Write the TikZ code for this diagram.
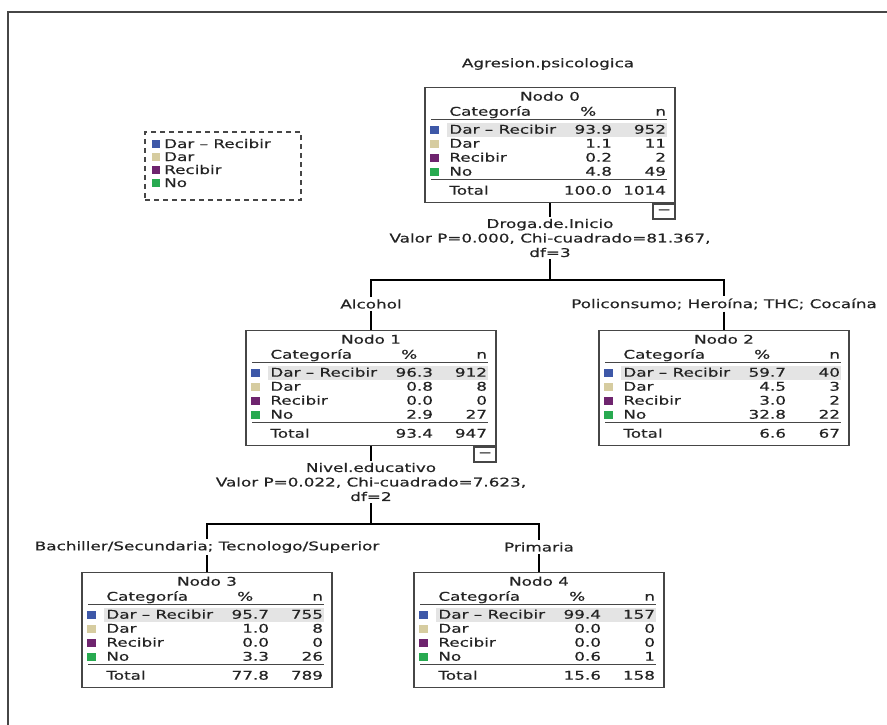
\documentclass[tikz,border=0pt]{standalone}
\usepackage{fontspec}
\setmainfont{DejaVu Sans}[FakeStretch=1.4, FakeBold=0.5]
\usepackage{tikz}
\usetikzlibrary{calc}
\usetikzlibrary{positioning}
\definecolor{azul}{RGB}{62, 88, 168}
\definecolor{arena}{RGB}{214, 204, 160}
\definecolor{morado}{RGB}{110, 36, 110}
\definecolor{verde}{RGB}{40, 170, 80}
\definecolor{resalte}{RGB}{228, 228, 228}
\definecolor{marco}{RGB}{70, 70, 70}
\definecolor{texto}{RGB}{35, 35, 35}

\tikzset{
  txt/.style={font=\fontsize{12}{14.5}\selectfont, inner sep=0pt, text=texto},
  corte/.style={txt, align=center, inner sep=2pt},
  rama/.style={txt, inner sep=2pt},
  caja/.style={draw=marco, line width=1.6pt, minimum width=250pt, minimum height=115pt, inner sep=0pt},
  menos/.style={draw=marco, line width=1.4pt, minimum width=22pt, minimum height=15pt, inner sep=0pt, txt},
  regla/.style={marco, line width=1.3pt},
  enlace/.style={black, line width=1.3pt},
  leyenda/.style={draw=marco, line width=1.3pt, dash pattern=on 5pt off 4pt, minimum width=156pt, minimum height=68pt}
}

% #1 nombre, #2 centro, #3 numero, #4 filas, #5 total %, #6 total n
\newcommand{\arbolnodo}[6]{
  \node[caja] (#1) at (#2) {};
  \node[txt, anchor=base] at ($(#1.north)+(0,14)$) {Nodo #3};
  \node[txt, anchor=base west] at ($(#1.north west)+(25,29)$) {Categoría};
  \node[txt, anchor=base] at ($(#1.north west)+(164,29)$) {\%};
  \node[txt, anchor=base east] at ($(#1.north west)+(242,29)$) {n};
  \draw[regla] ($(#1.north west)+(7,33)$) -- ++(236,0);
  \fill[resalte] ($(#1.north west)+(23,36)$) rectangle ++(220,14);
  \foreach \lab/\pc/\nn/\col [count=\i] in {#4}{
    \pgfmathsetmacro{\yy}{29+14*\i}
    \fill[fill=\col] ($(#1.north west)+(6,{\yy-4})$) rectangle ++(9,8);
    \node[txt, anchor=base west] at ($(#1.north west)+(25,{\yy+4})$) {\lab};
    \node[txt, anchor=base east] at ($(#1.north west)+(188,{\yy+4})$) {\pc};
    \node[txt, anchor=base east] at ($(#1.north west)+(242,{\yy+4})$) {\nn};
  }
  \draw[regla] ($(#1.north west)+(7,93)$) -- ++(236,0);
  \node[txt, anchor=base west] at ($(#1.north west)+(25,108)$) {Total};
  \node[txt, anchor=base east] at ($(#1.north west)+(188,108)$) {#5};
  \node[txt, anchor=base east] at ($(#1.north west)+(242,108)$) {#6};
}

\begin{document}
\begin{tikzpicture}[x=1pt, y=-1pt]
  \useasboundingbox (0,0) rectangle (887,725);
  \draw[marco, line width=1.6pt] (887,12) -- (8,12) -- (8,725);

  \node[leyenda] (ley) at (223,166) {};
  \foreach \lab/\col [count=\i] in {Dar -- Recibir/azul, Dar/arena, Recibir/morado, No/verde}{
    \pgfmathsetmacro{\yy}{131+13*\i}
    \fill[fill=\col] (152,{\yy-4}) rectangle ++(8,8);
    \node[txt, anchor=base west] at (164,{\yy+4}) {\lab};
  }

  \node[txt] (titulo) at (548,64) {Agresion.psicologica};

  \arbolnodo{n0}{550,145}{0}{Dar -- Recibir/93.9/952/azul, Dar/1.1/11/arena, Recibir/0.2/2/morado, No/4.8/49/verde}{100.0}{1014}
  \arbolnodo{n1}{371,388}{1}{Dar -- Recibir/96.3/912/azul, Dar/0.8/8/arena, Recibir/0.0/0/morado, No/2.9/27/verde}{93.4}{947}
  \arbolnodo{n2}{724,388}{2}{Dar -- Recibir/59.7/40/azul, Dar/4.5/3/arena, Recibir/3.0/2/morado, No/32.8/22/verde}{6.6}{67}
  \arbolnodo{n3}{207,630}{3}{Dar -- Recibir/95.7/755/azul, Dar/1.0/8/arena, Recibir/0.0/0/morado, No/3.3/26/verde}{77.8}{789}
  \arbolnodo{n4}{539,630}{4}{Dar -- Recibir/99.4/157/azul, Dar/0.0/0/arena, Recibir/0.0/0/morado, No/0.6/1/verde}{15.6}{158}

  \node[menos, anchor=north east] (m0) at (n0.south east) {−};
  \node[menos, anchor=north east] (m1) at (n1.south east) {−};

  \node[corte] (s0) at (550,238) {Droga.de.Inicio\\Valor P=0.000, Chi-cuadrado=81.367,\\df=3};
  \node[corte] (s1) at (371,482) {Nivel.educativo\\Valor P=0.022, Chi-cuadrado=7.623,\\df=2};

  \node[rama] (b1) at (371,304) {Alcohol};
  \node[rama] (b2) at (724,304) {Policonsumo; Heroína; THC; Cocaína};
  \node[rama] (b3) at (207,547) {Bachiller/Secundaria; Tecnologo/Superior};
  \node[rama] (b4) at (539,547) {Primaria};

  \coordinate (r0) at (550,280);
  \coordinate (r1) at (371,524);

  \draw[enlace] (n0.south) -- (s0.north);
  \draw[enlace] (s0.south) -- (r0);
  \draw[enlace] (b1.north) |- (r0) -| (b2.north);
  \draw[enlace] (b1.south) -- (n1.north);
  \draw[enlace] (b2.south) -- (n2.north);
  \draw[enlace] (n1.south) -- (s1.north);
  \draw[enlace] (s1.south) -- (r1);
  \draw[enlace] (b3.north) |- (r1) -| (b4.north);
  \draw[enlace] (b3.south) -- (n3.north);
  \draw[enlace] (b4.south) -- (n4.north);
\end{tikzpicture}
\end{document}
